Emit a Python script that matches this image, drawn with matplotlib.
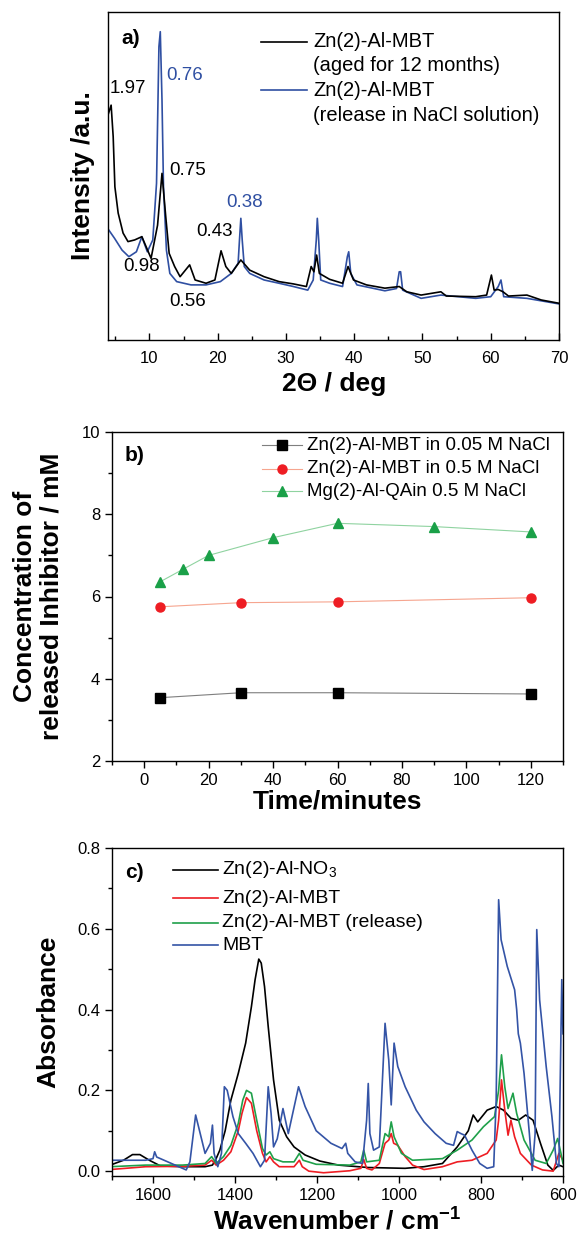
import matplotlib
matplotlib.use("Agg")
import matplotlib.pyplot as plt
from matplotlib.ticker import MultipleLocator, FormatStrFormatter

plt.rcParams['font.family'] = ['Liberation Sans', 'DejaVu Sans']
plt.rcParams['mathtext.fontset'] = 'custom'
plt.rcParams['mathtext.rm'] = 'Liberation Sans'
plt.rcParams['mathtext.bf'] = 'Liberation Sans:bold'
plt.rcParams['mathtext.it'] = 'Liberation Sans:italic'

# ---------------- panel a: XRD ----------------
xrd_aged_x = [4.0, 4.4, 4.7, 4.95, 5.43, 6.15, 6.87, 7.84, 8.9, 10.25, 11.2, 11.85, 12.4, 12.9,
              13.7, 14.5, 15.9, 16.7, 18.3, 19.6, 20.5, 21.2, 22.0, 23.4, 24.7, 26.8, 29.0,
              31.1, 33.0, 33.7, 34.1, 34.5, 34.9, 36.4, 38.3, 39.1, 39.9, 41.8, 44.5, 46.6,
              47.7, 49.8, 52.7, 53.5, 57.8, 59.4, 60.1, 60.5, 61.1, 61.8, 62.6, 65.3, 67.4, 70.0]
xrd_aged_y = [69.0, 71.6, 62.0, 46.7, 38.7, 32.6, 30.0, 30.5, 31.5, 24.9, 35.0, 50.8, 37.6, 26.4,
              22.4, 19.3, 22.9, 18.3, 17.3, 18.3, 27.2, 22.4, 20.3, 24.4, 21.3, 19.3, 17.8,
              17.1, 16.3, 22.4, 20.8, 25.9, 20.3, 18.5, 17.3, 22.4, 18.3, 16.8, 15.8, 16.3,
              14.7, 13.7, 14.7, 13.4, 13.2, 13.7, 19.8, 15.2, 15.4, 14.7, 13.4, 13.7, 12.2, 11.2]

xrd_rel_x = [4.0, 4.9, 6.0, 7.0, 8.1, 8.9, 9.7, 10.5, 11.05, 11.4, 11.6, 11.85, 12.07, 12.5, 13.0,
             14.0, 16.1, 18.3, 20.4, 22.0, 23.0, 23.2, 23.4, 23.6, 23.9, 24.7, 26.8, 29.0, 31.1,
             33.2, 34.0, 34.45, 34.6, 34.8, 35.1, 36.4, 38.3, 39.0, 39.2, 39.5, 40.4, 44.5,
             46.2, 46.6, 46.8, 47.1, 49.8, 52.7, 57.8, 60.0, 61.1, 61.5, 61.9, 65.3, 70.0]
xrd_rel_y = [33.7, 31.0, 27.4, 25.4, 26.9, 31.5, 26.9, 30.5, 47.8, 89.4, 94.0, 73.2, 46.7, 27.4, 20.3,
             17.8, 16.8, 16.8, 17.8, 20.3, 23.4, 30.5, 37.1, 30.5, 22.4, 20.3, 18.3, 17.3, 16.3,
             15.2, 18.3, 30.5, 37.1, 30.5, 18.3, 17.3, 16.3, 25.4, 26.9, 20.3, 16.8, 15.0,
             15.7, 20.8, 20.8, 15.2, 12.7, 13.7, 12.7, 13.2, 16.3, 18.3, 13.2, 12.7, 11.0]

xrd_labels = ["1.97", "0.76", "0.75", "0.38", "0.43", "0.98", "0.56"]
xrd_label_x = [6.9, 15.1, 15.6, 24.0, 19.6, 8.8, 15.6]
xrd_label_y = [76.8, 80.5, 51.8, 41.8, 33.0, 22.4, 11.7]
xrd_label_series = [0, 1, 0, 1, 0, 0, 0]

# ---------------- panel b: release ----------------
t_zn_005 = [5, 30, 60, 120]
c_zn_005 = [3.54, 3.66, 3.66, 3.63]
t_zn_05 = [5, 30, 60, 120]
c_zn_05 = [5.75, 5.85, 5.87, 5.97]
t_mg_05 = [5, 12, 20, 40, 60, 90, 120]
c_mg_05 = [6.36, 6.66, 7.00, 7.43, 7.78, 7.70, 7.57]
release_names = ["Zn(2)-Al-MBT in 0.05 M NaCl", "Zn(2)-Al-MBT in 0.5 M NaCl",
                 "Mg(2)-Al-QAin 0.5 M NaCl"]

# ---------------- panel c: FTIR ----------------
wn_no3 = [1704, 1672, 1650, 1632, 1609, 1582, 1528, 1473, 1455, 1446, 1437, 1424, 1410, 1392,
          1374, 1360, 1351, 1342, 1336, 1328, 1319, 1306, 1292, 1274, 1256, 1229, 1193, 1148,
          1075, 985, 939, 894, 858, 831, 819, 808, 785, 763, 745, 727, 709, 691, 673, 655,
          637, 624, 610, 600]
ab_no3 = [0.015, 0.027, 0.041, 0.041, 0.027, 0.013, 0.011, 0.011, 0.015, 0.031, 0.052, 0.100,
          0.176, 0.242, 0.317, 0.407, 0.474, 0.525, 0.515, 0.457, 0.358, 0.226, 0.126, 0.085,
          0.060, 0.040, 0.025, 0.015, 0.009, 0.007, 0.011, 0.019, 0.060, 0.100, 0.139, 0.122,
          0.151, 0.160, 0.151, 0.131, 0.126, 0.139, 0.126, 0.069, 0.015, 0.002, 0.015, 0.011]

wn_mbt_ldh = [1704, 1618, 1528, 1473, 1457, 1446, 1428, 1410, 1392, 1383, 1372, 1360, 1347,
              1333, 1324, 1315, 1306, 1292, 1256, 1243, 1236, 1220, 1184, 1120, 1093, 1086,
              1079, 1066, 1048, 1034, 1025, 1019, 1013, 1003, 985, 967, 939, 894, 858, 822,
              785, 763, 757, 750, 742, 734, 727, 718, 704, 677, 650, 624, 610, 600]
ab_mbt_ldh = [0.004, 0.011, 0.012, 0.015, 0.027, 0.015, 0.027, 0.048, 0.100, 0.143, 0.182,
              0.168, 0.100, 0.044, 0.023, 0.036, 0.023, 0.011, 0.011, 0.027, 0.011, 0.000,
              -0.004, 0.001, 0.007, 0.029, 0.007, 0.003, 0.019, 0.069, 0.077, 0.093, 0.069,
              0.064, 0.036, 0.015, 0.004, 0.011, 0.023, 0.027, 0.044, 0.077, 0.126, 0.226,
              0.151, 0.089, 0.126, 0.085, 0.044, 0.015, 0.003, 0.000, 0.044, 0.027]

wn_release = [1704, 1618, 1528, 1473, 1457, 1446, 1428, 1410, 1392, 1381, 1372, 1360, 1347,
              1333, 1324, 1315, 1306, 1283, 1256, 1243, 1234, 1202, 1120, 1093, 1086, 1079,
              1048, 1034, 1025, 1019, 1012, 994, 967, 894, 858, 822, 794, 767, 757, 750, 742,
              734, 722, 713, 695, 668, 641, 624, 613, 605, 600]
ab_release = [0.011, 0.015, 0.015, 0.019, 0.036, 0.019, 0.036, 0.064, 0.118, 0.176, 0.200,
              0.193, 0.126, 0.056, 0.040, 0.048, 0.031, 0.023, 0.023, 0.044, 0.027, 0.017,
              0.015, 0.023, 0.052, 0.023, 0.027, 0.093, 0.085, 0.122, 0.085, 0.044, 0.027,
              0.031, 0.052, 0.077, 0.110, 0.135, 0.200, 0.288, 0.209, 0.155, 0.193, 0.143,
              0.077, 0.027, 0.019, 0.052, 0.081, 0.044, 0.019]

wn_mbt = [1704, 1618, 1600, 1596, 1591, 1564, 1528, 1519, 1510, 1496, 1487, 1473, 1460, 1455,
          1451, 1442, 1433, 1426, 1419, 1405, 1392, 1374, 1356, 1338, 1328, 1319, 1312, 1306,
          1297, 1283, 1270, 1245, 1229, 1202, 1166, 1139, 1130, 1125, 1107, 1089, 1079, 1075,
          1071, 1062, 1048, 1034, 1025, 1019, 1012, 1003, 985, 958, 939, 912, 885, 867, 858,
          849, 840, 822, 803, 785, 769, 763, 757, 751, 736, 718, 713, 709, 704, 695, 682,
          675, 668, 664, 657, 641, 627, 616, 610, 603, 600]
ab_mbt = [0.027, 0.027, 0.031, 0.048, 0.035, 0.023, 0.007, 0.003, 0.023, 0.139, 0.102, 0.044,
          0.069, 0.114, 0.044, 0.011, 0.044, 0.209, 0.200, 0.135, 0.093, 0.069, 0.044, 0.011,
          0.027, 0.209, 0.143, 0.060, 0.080, 0.155, 0.093, 0.209, 0.160, 0.100, 0.069, 0.056,
          0.069, 0.044, 0.023, 0.019, 0.126, 0.217, 0.093, 0.052, 0.060, 0.366, 0.275, 0.164,
          0.317, 0.259, 0.209, 0.151, 0.122, 0.093, 0.069, 0.064, 0.098, 0.093, 0.089, 0.052,
          0.019, 0.007, 0.011, 0.176, 0.672, 0.573, 0.507, 0.449, 0.400, 0.340, 0.317, 0.242,
          0.093, 0.002, 0.093, 0.598, 0.424, 0.259, 0.135, 0.019, 0.011, 0.474, 0.340]
ftir_names = ["Zn(2)-Al-NO$_3$", "Zn(2)-Al-MBT", "Zn(2)-Al-MBT (release)", "MBT"]

# ---------------- figure ----------------
W, H = 577, 1238
fig = plt.figure(figsize=(W / 100, H / 100), dpi=100)


def box(l, r, t, b):
    return [l / W, 1 - b / H, (r - l) / W, (b - t) / H]


axa = fig.add_axes(box(108.4, 559, 12, 340))
axb = fig.add_axes(box(112, 563, 432, 761))
axc = fig.add_axes(box(112, 563, 848, 1176))

TICK_FS = 12
LAB_FS = 19
BLUE_A = '#2f4fa2'

for ax in (axa, axb, axc):
    for s in ax.spines.values():
        s.set_linewidth(1.0)

# ---- panel a ----
axa.plot(xrd_rel_x, xrd_rel_y, color=BLUE_A, lw=1.2)
axa.plot(xrd_aged_x, xrd_aged_y, color='black', lw=1.2)
axa.set_xlim(4, 70)
axa.set_ylim(0, 100)
axa.set_yticks([])
axa.xaxis.set_major_locator(MultipleLocator(10))
axa.xaxis.set_minor_locator(MultipleLocator(5))
axa.tick_params(axis='x', which='major', direction='in', length=5, width=1, labelsize=TICK_FS, pad=8)
axa.tick_params(axis='x', which='minor', direction='in', length=3, width=1)
axa.set_xlabel("2Θ / deg", fontsize=LAB_FS, fontweight='bold', labelpad=4)
axa.set_ylabel("Intensity /a.u.", fontsize=LAB_FS, fontweight='bold', labelpad=10)
for lab, lx, ly, sid in zip(xrd_labels, xrd_label_x, xrd_label_y, xrd_label_series):
    axa.text(lx, ly, lab, fontsize=13.5, color=(BLUE_A if sid == 1 else 'black'),
             ha='center', va='center')
axa.text(0.05, 0.92, "a)", transform=axa.transAxes, fontsize=15, fontweight='bold',
         ha='center', va='center')
# legend (drawn manually: line aligned with first text line)
leg_a = [("Zn(2)-Al-MBT", "(aged for 12 months)", 'black', 0.909, 0.838),
         ("Zn(2)-Al-MBT", "(release in NaCl solution)", BLUE_A, 0.762, 0.684)]
for t1, t2, col, y1, y2 in leg_a:
    axa.plot([0.339, 0.441], [y1, y1], transform=axa.transAxes, color=col, lw=1.2)
    axa.text(0.454, y1, t1, transform=axa.transAxes, fontsize=14.5, va='center', ha='left')
    axa.text(0.454, y2, t2, transform=axa.transAxes, fontsize=14.5, va='center', ha='left')

# ---- panel b ----
series_b = [
    (t_zn_005, c_zn_005, 's', 'black', '#7f7f7f'),
    (t_zn_05, c_zn_05, 'o', '#ee1d23', '#f6a58f'),
    (t_mg_05, c_mg_05, '^', '#1aa048', '#8fd3a0'),
]
for (tx, cy, mk, mc, lc), name in zip(series_b, release_names):
    axb.plot(tx, cy, color=lc, lw=0.8, zorder=2)
    axb.plot(tx, cy, ls='none', marker=mk, ms=6.5, mfc=mc, mec=mc, zorder=3)
axb.set_xlim(-10, 130)
axb.set_ylim(2, 10)
axb.xaxis.set_major_locator(MultipleLocator(20))
axb.xaxis.set_minor_locator(MultipleLocator(10))
axb.yaxis.set_major_locator(MultipleLocator(2))
axb.yaxis.set_minor_locator(MultipleLocator(1))
axb.tick_params(which='major', direction='out', length=5, width=1, labelsize=TICK_FS)
axb.tick_params(which='minor', direction='out', length=3, width=1)
axb.set_xlabel("Time/minutes", fontsize=LAB_FS, fontweight='bold', labelpad=1)
axb.set_ylabel("Concentration of\nreleased Inhibitor / mM", fontsize=LAB_FS,
               fontweight='bold', labelpad=13, linespacing=1.12)
axb.text(0.05, 0.93, "b)", transform=axb.transAxes, fontsize=15, fontweight='bold',
         ha='center', va='center')
leg_b_y = [0.960, 0.888, 0.820]
for (tx, cy, mk, mc, lc), name, yy in zip(series_b, release_names, leg_b_y):
    axb.plot([0.333, 0.421], [yy, yy], transform=axb.transAxes, color=lc, lw=0.8)
    axb.plot([0.377], [yy], transform=axb.transAxes, ls='none', marker=mk, ms=6.5,
             mfc=mc, mec=mc)
    axb.text(0.432, yy, name, transform=axb.transAxes, fontsize=13.5, va='center', ha='left')

# ---- panel c ----
series_c = [
    (wn_no3, ab_no3, 'black'),
    (wn_mbt_ldh, ab_mbt_ldh, '#ee1d23'),
    (wn_release, ab_release, '#1fa04a'),
    (wn_mbt, ab_mbt, '#3454a6'),
]
for (wx, ay, col) in series_c:
    axc.plot(wx, ay, color=col, lw=1.2)
axc.set_xlim(1700, 600)
axc.set_ylim(-0.012, 0.8)
axc.xaxis.set_major_locator(MultipleLocator(200))
axc.xaxis.set_minor_locator(MultipleLocator(100))
axc.yaxis.set_major_locator(MultipleLocator(0.2))
axc.yaxis.set_minor_locator(MultipleLocator(0.1))
axc.yaxis.set_major_formatter(FormatStrFormatter('%.1f'))
axc.tick_params(which='major', direction='out', length=5, width=1, labelsize=TICK_FS)
axc.tick_params(which='minor', direction='out', length=3, width=1)
axc.set_xlabel(r"Wavenumber / cm$^{\mathbf{-1}}$", fontsize=LAB_FS, fontweight='bold', labelpad=4)
axc.set_ylabel("Absorbance", fontsize=LAB_FS, fontweight='bold', labelpad=12)
axc.text(0.05, 0.924, "c)", transform=axc.transAxes, fontsize=15, fontweight='bold',
         ha='center', va='center')
leg_c_y = [0.933, 0.847, 0.772, 0.704]
for (wx, ay, col), name, yy in zip(series_c, ftir_names, leg_c_y):
    axc.plot([0.135, 0.236], [yy, yy], transform=axc.transAxes, color=col, lw=1.2)
    axc.text(0.244, yy, name, transform=axc.transAxes, fontsize=14, va='center', ha='left')

fig.savefig("out.png", dpi=100)
